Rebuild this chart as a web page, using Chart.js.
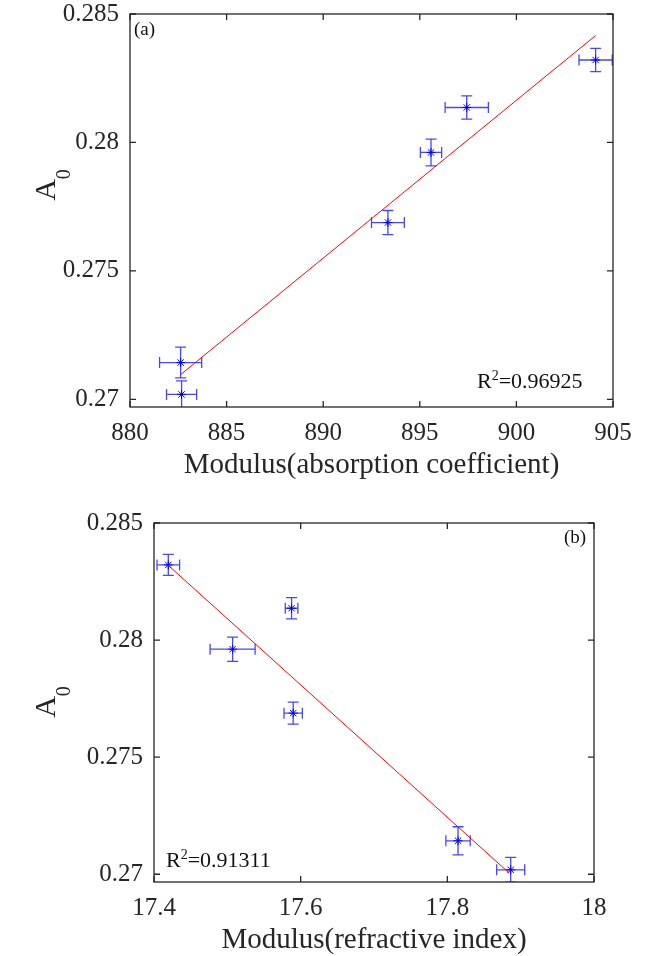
<!DOCTYPE html>
<html>
<head>
<meta charset="utf-8">
<script src="https://cdn.jsdelivr.net/npm/chart.js@4.4.1/dist/chart.umd.min.js"></script>
<style>
  html, body { margin: 0; padding: 0; background: #fff; }
  #wrap { position: relative; width: 645px; height: 956px; }
  canvas { position: absolute; left: 0; }
  #chartA { top: 0; }
  #chartB { top: 490px; }
</style>
</head>
<body>
<div id="wrap">
  <canvas id="chartA" width="645" height="490"></canvas>
  <canvas id="chartB" width="645" height="466"></canvas>
</div>
<script>
// shared A0 values (same samples in both panels)
const a0 = [0.27143, 0.27019, 0.27688, 0.27961, 0.28136, 0.28321];
const a0Err = [0.0006, 0.00053, 0.00047, 0.00052, 0.00045, 0.00045];

// panel (a): modulus of absorption coefficient
const absCoef = [882.62, 882.67, 893.35, 895.58, 897.43, 904.10];
const absErr = [1.09, 0.78, 0.85, 0.55, 1.12, 0.86];
const absFitX = [882.62, 904.10];
const absFitY = [0.27096, 0.28416];
const absTicks = [880, 885, 890, 895, 900, 905];
const absTickLabels = ['880', '885', '890', '895', '900', '905'];

// panel (b): modulus of refractive index
const refIdx = [17.8146, 17.8864, 17.5898, 17.5072, 17.5876, 17.4195];
const refErr = [0.0166, 0.0191, 0.0125, 0.0307, 0.0086, 0.0154];
const refFitX = [17.4195, 17.884];
const refFitY = [0.28319, 0.27006];
const refTicks = [17.4, 17.6, 17.8, 18];
const refTickLabels = ['17.4', '17.6', '17.8', '18'];

const a0Ticks = [0.27, 0.275, 0.28, 0.285];
const a0TickLabels = ['0.27', '0.275', '0.28', '0.285'];

const FONT = "'Liberation Serif', 'Times New Roman', serif";
const AXIS = '#262626';

function toPoints(xs, ys) {
    return xs.map((v, i) => ({ x: v, y: ys[i] }));
}

// error bars, box frame with inward ticks, and the text annotations
const figureExtras = {
    id: 'figureExtras',
    beforeDatasetsDraw(chart, args, opts) {
        const ctx = chart.ctx;
        const a = chart.chartArea;
        const x = chart.scales.x, y = chart.scales.y;
        const cap = 5.5;
        ctx.save();
        ctx.beginPath();
        ctx.rect(a.left, a.top, a.right - a.left, a.bottom - a.top);
        ctx.clip();
        ctx.strokeStyle = 'rgb(70, 70, 255)';
        ctx.lineWidth = 1.3;
        opts.xs.forEach(function (xv, i) {
            const yv = opts.ys[i];
            const px = x.getPixelForValue(xv), py = y.getPixelForValue(yv);
            const x0 = x.getPixelForValue(xv - opts.xErr[i]);
            const x1 = x.getPixelForValue(xv + opts.xErr[i]);
            const y0 = y.getPixelForValue(yv - opts.yErr[i]);
            const y1 = y.getPixelForValue(yv + opts.yErr[i]);
            ctx.beginPath();
            ctx.moveTo(x0, py); ctx.lineTo(x1, py);
            ctx.moveTo(x0, py - cap); ctx.lineTo(x0, py + cap);
            ctx.moveTo(x1, py - cap); ctx.lineTo(x1, py + cap);
            ctx.moveTo(px, y0); ctx.lineTo(px, y1);
            ctx.moveTo(px - cap, y0); ctx.lineTo(px + cap, y0);
            ctx.moveTo(px - cap, y1); ctx.lineTo(px + cap, y1);
            ctx.stroke();
        });
        ctx.restore();
    },
    afterDraw(chart, args, opts) {
        const ctx = chart.ctx;
        const a = chart.chartArea;
        const x = chart.scales.x, y = chart.scales.y;
        const tl = 6;
        ctx.save();
        ctx.strokeStyle = AXIS;
        ctx.lineWidth = 1.3;
        ctx.strokeRect(a.left, a.top, a.right - a.left, a.bottom - a.top);
        ctx.beginPath();
        x.ticks.forEach(function (t) {
            const p = x.getPixelForValue(t.value);
            ctx.moveTo(p, a.bottom); ctx.lineTo(p, a.bottom - tl);
            ctx.moveTo(p, a.top); ctx.lineTo(p, a.top + tl);
        });
        y.ticks.forEach(function (t) {
            const p = y.getPixelForValue(t.value);
            ctx.moveTo(a.left, p); ctx.lineTo(a.left + tl, p);
            ctx.moveTo(a.right, p); ctx.lineTo(a.right - tl, p);
        });
        ctx.stroke();

        ctx.fillStyle = '#111';
        ctx.textBaseline = 'alphabetic';

        // panel tag
        ctx.font = '19px ' + FONT;
        ctx.textAlign = 'left';
        ctx.fillText(opts.tag, opts.tagPos[0], opts.tagPos[1]);

        // R^2 note
        let rx = opts.rPos[0];
        const ry = opts.rPos[1];
        ctx.font = '22px ' + FONT;
        ctx.fillText('R', rx, ry);
        rx += ctx.measureText('R').width;
        ctx.font = '14px ' + FONT;
        ctx.fillText('2', rx, ry - 8);
        rx += ctx.measureText('2').width;
        ctx.font = '22px ' + FONT;
        ctx.fillText('=' + opts.r2, rx, ry);

        // x axis title
        ctx.fillStyle = AXIS;
        ctx.font = '29px ' + FONT;
        ctx.textAlign = 'center';
        ctx.fillText(opts.xTitle, (a.left + a.right) / 2, opts.xTitleY);

        // y axis title A_0
        ctx.translate(opts.yTitlePos[0], opts.yTitlePos[1]);
        ctx.rotate(-Math.PI / 2);
        ctx.textAlign = 'left';
        ctx.font = '30px ' + FONT;
        const wA = ctx.measureText('A').width;
        ctx.font = '20px ' + FONT;
        const w0 = ctx.measureText('0').width;
        const start = -(wA + w0) / 2;
        ctx.font = '30px ' + FONT;
        ctx.fillText('A', start, 0);
        ctx.font = '20px ' + FONT;
        ctx.fillText('0', start + wA, 15);
        ctx.restore();
    }
};

function makeScales(cfg) {
    const tickFont = { family: FONT, size: 25 };
    return {
        x: {
            type: 'linear',
            min: cfg.xMin,
            max: cfg.xMax,
            grid: { display: false, drawTicks: false },
            border: { display: false },
            afterBuildTicks: function (s) { s.ticks = cfg.xTicks.map(v => ({ value: v })); },
            afterFit: function (s) { s.height = cfg.xHeight; s.paddingLeft = 0; s.paddingRight = 0; },
            ticks: {
                callback: (v, i) => cfg.xLabels[i],
                font: tickFont, color: AXIS, padding: 11,
                maxRotation: 0, autoSkip: false
            }
        },
        y: {
            type: 'linear',
            min: cfg.yMin,
            max: cfg.yMax,
            grid: { display: false, drawTicks: false },
            border: { display: false },
            afterBuildTicks: function (s) { s.ticks = a0Ticks.map(v => ({ value: v })); },
            afterFit: function (s) { s.width = cfg.yWidth; s.paddingTop = 0; s.paddingBottom = 0; },
            ticks: {
                callback: (v, i) => a0TickLabels[i],
                font: tickFont, color: AXIS, padding: 11, autoSkip: false
            }
        }
    };
}

function makeChart(id, cfg) {
    return new Chart(document.getElementById(id).getContext('2d'), {
        type: 'scatter',
        data: {
            datasets: [{
                label: 'fit',
                data: toPoints(cfg.fitX, cfg.fitY),
                showLine: true,
                borderColor: '#ff0000',
                borderWidth: 1,
                pointRadius: 0
            }, {
                label: 'A0',
                data: toPoints(cfg.xs, a0),
                pointStyle: 'star',
                pointRadius: 4.5,
                borderColor: '#0000ff',
                backgroundColor: '#0000ff',
                borderWidth: 1
            }]
        },
        options: {
            responsive: false,
            animation: false,
            layout: { padding: cfg.padding },
            plugins: {
                legend: { display: false },
                tooltip: { enabled: false },
                figureExtras: {
                    xs: cfg.xs, ys: a0, xErr: cfg.xErr, yErr: a0Err,
                    tag: cfg.tag, tagPos: cfg.tagPos,
                    r2: cfg.r2, rPos: cfg.rPos,
                    xTitle: cfg.xTitle, xTitleY: cfg.xTitleY,
                    yTitlePos: cfg.yTitlePos
                }
            },
            scales: makeScales(cfg)
        },
        plugins: [figureExtras]
    });
}

makeChart('chartA', {
    xs: absCoef, xErr: absErr, fitX: absFitX, fitY: absFitY,
    xMin: 880, xMax: 905, xTicks: absTicks, xLabels: absTickLabels,
    yMin: 0.2697, yMax: 0.285,
    yWidth: 130, xHeight: 83,
    padding: { left: 0, right: 32, top: 14, bottom: 0 },
    tag: '(a)', tagPos: [134, 35],
    r2: '0.96925', rPos: [477, 388],
    xTitle: 'Modulus(absorption coefficient)', xTitleY: 473,
    yTitlePos: [55, 185]
});

makeChart('chartB', {
    xs: refIdx, xErr: refErr, fitX: refFitX, fitY: refFitY,
    xMin: 17.4, xMax: 18, xTicks: refTicks, xLabels: refTickLabels,
    yMin: 0.26967, yMax: 0.285,
    yWidth: 154, xHeight: 74,
    padding: { left: 0, right: 51, top: 33, bottom: 0 },
    tag: '(b)', tagPos: [564, 53],
    r2: '0.91311', rPos: [166, 377],
    xTitle: 'Modulus(refractive index)', xTitleY: 458,
    yTitlePos: [55, 212]
});
</script>
</body>
</html>
